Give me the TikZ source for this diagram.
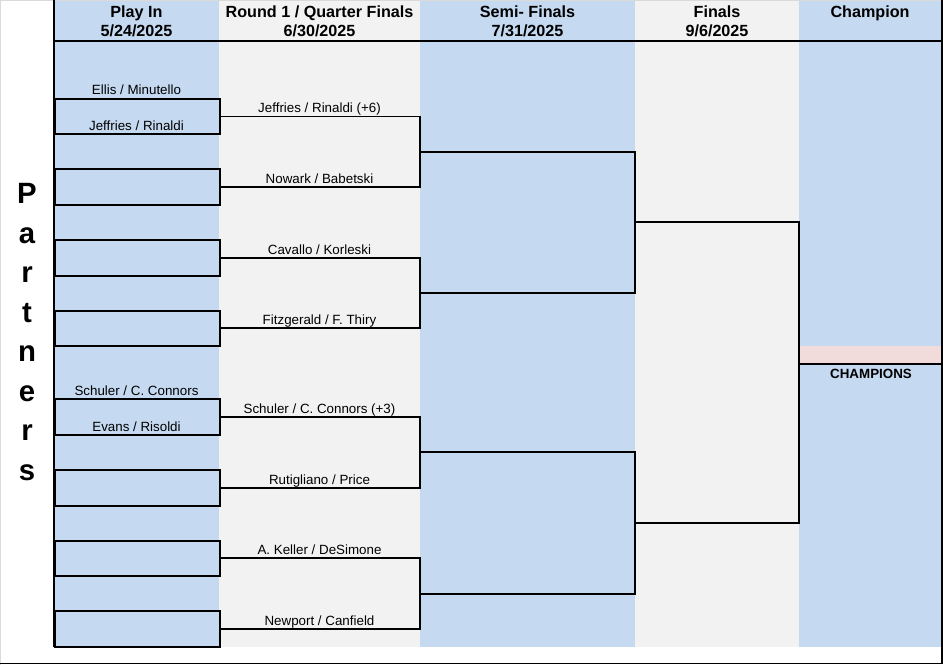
\documentclass[tikz,border=0pt]{standalone}
\usepackage{fontspec}
\setmainfont{Liberation Sans}
\usepackage{tikz}
\definecolor{colblue}{HTML}{C5D9F1}
\definecolor{colgray}{HTML}{F2F2F2}
\definecolor{champpink}{HTML}{F2DCDB}
\definecolor{framegray}{HTML}{DADADA}

\begin{document}
\begin{tikzpicture}[x=0.02cm, y=-0.02cm,
    pair/.style={draw, line width=1.1pt, minimum width=3.3cm, minimum height=0.712cm, inner sep=0pt, anchor=west},
    team/.style={anchor=base, inner sep=0pt, font=\fontsize{7.6}{9}\selectfont},
    head/.style={anchor=base, inner sep=0pt, font=\bfseries\fontsize{9.2}{11}\selectfont},
    partners/.style={anchor=north, align=center, inner sep=0pt, font=\bfseries\fontsize{16.7}{22.5}\selectfont},
    bracket/.style={line width=1.1pt}]
            \useasboundingbox (0,0) rectangle (943,665);

            % columns
            \fill[colblue] (54,0) rectangle (219,646.8);
            \fill[colgray] (219,0) rectangle (420,646.8);
            \fill[colblue] (420,0) rectangle (635,646.8);
            \fill[colgray] (635,0) rectangle (799,646.8);
            \fill[colblue] (799,0) rectangle (941,646.8);
            \fill[champpink] (799,346) rectangle (941,364);

            \draw[framegray, line width=0.6pt] (0.5,665) -- (0.5,0.5) -- (943,0.5);
            \draw[line width=0.9pt] (0,663.3) -- (941.7,663.3) -- (941.7,0);
            \draw[line width=0.8pt] (54,41) -- (943,41);
            \draw[line width=0.6pt] (54,0) -- (54,646.8);

            % headers
            \node[head] (hplay) at (136.5,17.3) {Play In};
            \node[head] (dplay) at (136.5,36.7) {5/24/2025};
            \node[head] (hround) at (319.5,17.3) {Round 1 / Quarter Finals};
            \node[head] (dround) at (319.5,36.7) {6/30/2025};
            \node[head] (hsemi) at (527.5,17.3) {Semi- Finals};
            \node[head] (dsemi) at (527.5,36.7) {7/31/2025};
            \node[head] (hfinal) at (717,17.3) {Finals};
            \node[head] (dfinal) at (717,36.7) {9/6/2025};
            \node[head] (hchamp) at (870,17.3) {Champion};

            \node[partners] (partners) at (27,183) {P\\a\\r\\t\\n\\e\\r\\s};

            % play in
            \node[pair] (p1) at (54,116.5) {};
            \node[pair] (p2) at (54,187.1) {};
            \node[pair] (p3) at (54,257.8) {};
            \node[pair] (p4) at (54,328.4) {};
            \node[pair] (p5) at (54,417.1) {};
            \node[pair] (p6) at (54,487.8) {};
            \node[pair] (p7) at (54,558.4) {};
            \node[pair] (p8) at (54,629.0) {};

            \node[team] (ellis) at (136.5,95) {Ellis / Minutello};
            \node[team] (jeffries) at (136.5,130.9) {Jeffries / Rinaldi};
            \node[team] (schuler) at (136.5,395.7) {Schuler / C. Connors};
            \node[team] (evans) at (136.5,431.3) {Evans / Risoldi};

            % brackets
            \coordinate (r1) at (420,151.8);
            \coordinate (r2) at (420,293.1);
            \coordinate (r3) at (420,452.4);
            \coordinate (r4) at (420,593.7);
            \coordinate (s1) at (635,222.45);
            \coordinate (s2) at (635,523.05);
            \coordinate (f1) at (799,372.7);
            \coordinate (c1) at (799,364);
            \coordinate (c2) at (941,364);

            \draw[bracket] (p1.east) -| (r1) |- (p2.east);
            \draw[bracket] (p3.east) -| (r2) |- (p4.east);
            \draw[bracket] (p5.east) -| (r3) |- (p6.east);
            \draw[bracket] (p7.east) -| (r4) |- (p8.east);
            \draw[bracket] (r1) -| (s1) |- (r2);
            \draw[bracket] (r3) -| (s2) |- (r4);
            \draw[bracket] (s1) -| (f1) |- (s2);
            \draw[line width=0.8pt] (c1) -- (c2);

            % round 1
            \node[team] (q1) at (319.5,112.9) {Jeffries / Rinaldi (+6)};
            \node[team] (q2) at (319.5,183.5) {Nowark / Babetski};
            \node[team] (q3) at (319.5,254.2) {Cavallo / Korleski};
            \node[team] (q4) at (319.5,324.8) {Fitzgerald / F. Thiry};
            \node[team] (q5) at (319.5,413.5) {Schuler / C. Connors (+3)};
            \node[team] (q6) at (319.5,484.2) {Rutigliano / Price};
            \node[team] (q7) at (319.5,554.8) {A. Keller / DeSimone};
            \node[team] (q8) at (319.5,625.4) {Newport / Canfield};

            \node[anchor=base, inner sep=0pt, font=\bfseries\fontsize{7.6}{9}\selectfont] (champs) at (871,378) {CHAMPIONS};
        \end{tikzpicture}
\end{document}
